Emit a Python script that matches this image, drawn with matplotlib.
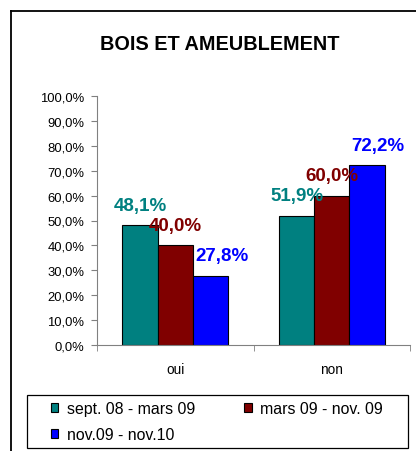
import numpy as np
import matplotlib.pyplot as plt
from matplotlib.lines import Line2D
from matplotlib.patches import Rectangle

categories = ['oui', 'non']
series = ['sept. 08 - mars 09', 'mars 09 - nov. 09', 'nov.09 - nov.10']
values = [[48.1, 51.9], [40.0, 60.0], [27.8, 72.2]]
colors = ['#008080', '#800000', '#0000FF']
yticks = np.arange(0, 101, 10)

fig = plt.figure(figsize=(4.16, 4.52), dpi=100)
plt.rcParams['font.family'] = ['Liberation Sans', 'DejaVu Sans']

def px(x, y):
    # pixel position (from top left) -> figure fraction
    return x / 416, 1 - y / 452

# outer chart frame
fig.add_artist(Line2D([11/416, 11/416], [0, 1 - 12/452], color='black', lw=1.3, transform=fig.transFigure))
fig.add_artist(Line2D([11/416, 1], [1 - 12/452, 1 - 12/452], color='black', lw=1.3, transform=fig.transFigure))

ax = fig.add_axes([97/416, 1 - 346/452, (410 - 97)/416, (346 - 97)/452])

x = np.arange(len(categories))
w = 0.225
label_dx = [0, 0, 8]  # points; the last series' labels sit a bit to the right
bars = []
for i, (name, vals, c) in enumerate(zip(series, values, colors)):
    pos = x + (i - 1) * w
    b = ax.bar(pos, vals, w, color=c, edgecolor='black', linewidth=0.8, label=name)
    bars.append(b)
    for p, v in zip(pos, vals):
        ax.annotate(f'{v:.1f}%'.replace('.', ','), (p, v + 4.6), xytext=(label_dx[i], 0),
                    textcoords='offset points', color=c, ha='center', va='bottom',
                    fontsize=13.5, fontweight='bold', annotation_clip=False)

ax.set_xlim(-0.5, 1.5)
ax.set_ylim(0, 100)
ax.set_yticks(yticks)
ax.set_yticklabels([f'{t:.1f}%'.replace('.', ',') for t in yticks], fontsize=9.4)
ax.set_xticks(x)
ax.set_xticklabels(categories, fontsize=9.8)
ax.tick_params(axis='x', length=0, pad=12)
ax.set_xticks([-0.5, 0.5, 1.5], minor=True)
ax.tick_params(axis='x', which='minor', length=4, color='gray', direction='out')
ax.tick_params(axis='y', length=4, color='gray', direction='out', pad=5)
for s in ['top', 'right']:
    ax.spines[s].set_visible(False)
for s in ['left', 'bottom']:
    ax.spines[s].set_color('gray')

fig.text(220/416, 1 - 45/452, 'BOIS ET AMEUBLEMENT', ha='center', va='center',
         fontsize=14.3, fontweight='bold')

# legend box
x0, y0 = px(27, 449)
fig.add_artist(Rectangle((x0, y0), (408 - 27)/416, 53/452, fill=False, edgecolor='black',
                         lw=0.9, transform=fig.transFigure))
order = [0, 2, 1]
leg = fig.legend([bars[k] for k in order], [series[k] for k in order],
                 loc='upper left', bbox_to_anchor=px(51, 402), ncol=2, fontsize=11.4,
                 frameon=False, handlelength=0.46, handleheight=0.46, handletextpad=0.55,
                 borderpad=0, borderaxespad=0, labelspacing=0.7, columnspacing=3.1)

fig.savefig('out.png', dpi=100)
